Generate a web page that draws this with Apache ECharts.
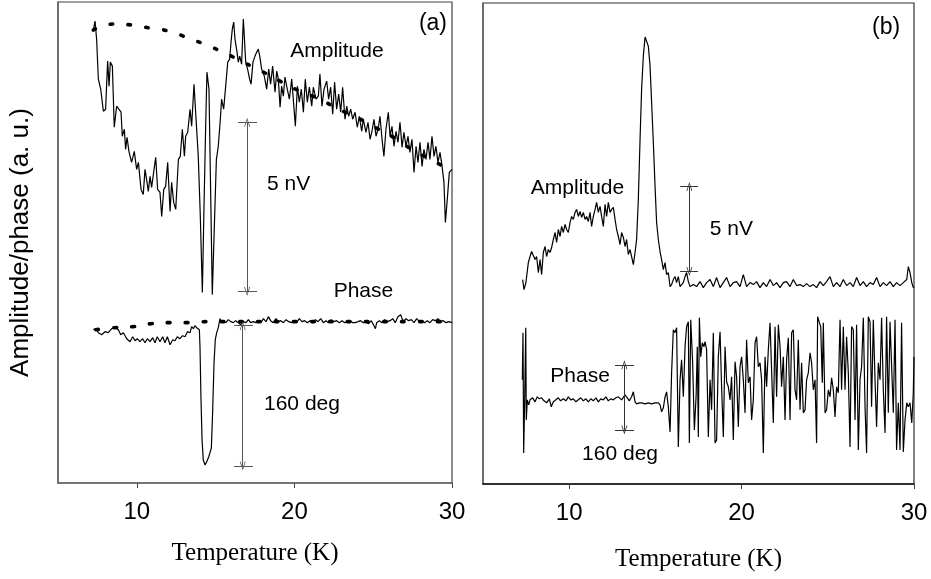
<!DOCTYPE html>
<html>
<head>
    <meta charset="UTF-8">
    <title>Amplitude / phase vs temperature</title>
    <script src="https://fastly.jsdelivr.net/npm/echarts@6/dist/echarts.min.js"></script>
    <style>
        html, body { margin: 0; padding: 0; background: #fff; }
        #chart { width: 931px; height: 579px; }
    </style>
</head>
<body>
<div id="chart"></div>
<script>
// ---- panel (a) : [temperature K, signal a.u.] ----
var ampA = [
  [7.24,452],[7.35,461],[7.45,443],[7.56,403],[7.71,393],[7.88,371],[8.02,373],[8.15,421],[8.24,396],[8.32,420],
  [8.45,416],[8.57,355],[8.72,376],[8.83,375],[9.00,370],[9.08,346],[9.21,353],[9.29,333],[9.38,345],[9.50,331],
  [9.67,320],[9.84,331],[9.99,313],[10.10,320],[10.27,293],[10.41,288],[10.52,313],[10.65,300],[10.73,291],[10.84,306],
  [10.94,295],[11.07,310],[11.20,325],[11.32,293],[11.47,290],[11.58,266],[11.71,293],[11.83,296],[11.96,320],[12.11,271],
  [12.21,300],[12.34,280],[12.47,273],[12.64,323],[12.76,326],[12.89,353],[13.02,326],[13.10,346],[13.23,350],[13.38,373],
  [13.48,356],[13.63,398],[13.76,363],[13.90,326],[14.03,266],[14.16,190],[14.26,273],[14.37,356],[14.45,410],[14.58,393],
  [14.67,306],[14.79,188],[14.92,256],[15.05,323],[15.17,336],[15.30,363],[15.38,383],[15.51,373],[15.64,396],[15.77,420],
  [15.89,423],[15.98,440],[16.06,453],[16.15,460],[16.23,443],[16.36,430],[16.44,420],[16.53,426],[16.65,418],[16.76,463],
  [16.82,446],[16.91,420],[17.03,413],[17.16,403],[17.25,398],[17.37,420],[17.50,426],[17.61,430],[17.71,433],[17.80,426],
  [17.92,413],[18.09,406],[18.24,393],[18.37,413],[18.49,398],[18.62,416],[18.77,390],[18.88,411],[18.98,403],[19.09,375],
  [19.19,396],[19.30,386],[19.40,405],[19.51,396],[19.68,383],[19.83,403],[19.93,383],[20.06,356],[20.19,396],[20.31,380],
  [20.44,393],[20.57,370],[20.69,403],[20.82,380],[20.95,395],[21.10,376],[21.20,395],[21.37,383],[21.52,386],[21.62,408],
  [21.75,376],[21.88,393],[22.05,401],[22.17,383],[22.30,395],[22.43,368],[22.55,400],[22.68,373],[22.81,388],[22.94,370],
  [23.06,395],[23.21,363],[23.32,376],[23.44,366],[23.57,373],[23.70,363],[23.85,370],[23.99,355],[24.12,366],[24.27,351],
  [24.37,363],[24.54,350],[24.67,360],[24.80,343],[24.92,351],[25.05,363],[25.18,346],[25.33,355],[25.43,366],[25.56,343],
  [25.68,326],[25.81,353],[25.96,370],[26.07,346],[26.19,356],[26.32,336],[26.45,351],[26.57,340],[26.70,360],[26.83,335],
  [26.95,350],[27.08,336],[27.21,346],[27.33,330],[27.46,343],[27.59,310],[27.72,336],[27.84,320],[27.97,340],[28.10,316],
  [28.22,333],[28.35,323],[28.48,340],[28.60,323],[28.73,346],[28.86,326],[28.98,336],[29.11,320],[29.24,330],[29.37,316],
  [29.49,300],[29.58,260],[29.70,283],[29.83,310],[30.00,313]
];

var ampAFit = [
  [7.24,452],[8.51,458],[9.68,457],[10.84,454],[12.00,451],[13.27,444],[14.43,437],[15.60,429],[16.76,420],[17.92,411],
  [19.09,401],[20.36,391],[21.62,383],[22.79,373],[23.95,365],[25.11,355],[26.28,345],[27.44,333],[28.60,323],[29.87,313]
];

var phaseA = [
  [7.24,153],[7.41,154],[7.56,150],[7.77,148],[7.98,151],[8.19,150],[8.41,154],[8.62,155],[8.83,153],[8.98,148],
  [9.15,150],[9.36,144],[9.57,141],[9.74,146],[9.89,142],[10.03,144],[10.20,141],[10.37,144],[10.52,140],[10.67,144],
  [10.84,141],[11.01,145],[11.15,140],[11.30,146],[11.47,141],[11.64,146],[11.79,140],[11.94,146],[12.11,138],[12.28,143],
  [12.42,142],[12.57,146],[12.74,144],[12.91,147],[13.06,146],[13.21,151],[13.38,150],[13.48,156],[13.59,154],[13.69,157],
  [13.80,155],[13.90,156],[13.97,153],[14.01,136],[14.07,86],[14.14,43],[14.22,23],[14.33,18],[14.43,21],[14.56,26],
  [14.64,30],[14.73,35],[14.81,70],[14.90,120],[14.98,143],[15.07,150],[15.17,155],[15.28,164],[15.39,160],[15.49,162],
  [15.64,160],[15.81,163],[15.96,161],[16.13,160],[16.27,162],[16.44,160],[16.59,158],[16.76,161],[16.93,160],[17.08,163],
  [17.22,160],[17.39,161],[17.56,160],[17.73,162],[17.88,160],[18.03,164],[18.20,161],[18.35,166],[18.49,162],[18.66,160],
  [18.83,164],[18.98,161],[19.13,162],[19.30,160],[19.47,163],[19.64,161],[19.81,160],[19.98,162],[20.14,160],[20.31,164],
  [20.48,161],[20.65,162],[20.82,160],[20.99,162],[21.16,160],[21.33,163],[21.50,161],[21.67,164],[21.84,160],[22.00,162],
  [22.17,160],[22.34,163],[22.51,161],[22.68,162],[22.85,160],[23.02,162],[23.19,160],[23.36,161],[23.53,162],[23.70,160],
  [23.87,160],[24.04,161],[24.20,162],[24.37,160],[24.54,161],[24.71,159],[24.88,162],[25.05,157],[25.14,154],[25.22,160],
  [25.39,162],[25.56,160],[25.73,163],[25.90,161],[26.07,162],[26.24,164],[26.40,160],[26.57,166],[26.74,168],[26.91,161],
  [27.08,164],[27.25,162],[27.42,163],[27.59,160],[27.76,164],[27.93,161],[28.10,162],[28.27,160],[28.43,162],[28.60,160],
  [28.77,163],[28.94,162],[29.11,164],[29.28,161],[29.45,162],[29.62,160],[29.79,161],[30.00,160]
];

var phaseAFit = [
  [7.41,153],[8.57,155],[9.74,156],[10.90,159],[12.11,160],[13.27,160],[14.43,161],[15.60,161],[20.00,161],[25.00,161],[30.00,161]
];

// ---- panel (b) ----
var ampB = [
  [7.30,204],[7.38,194],[7.49,201],[7.63,221],[7.73,227],[7.82,232],[7.92,231],[8.02,224],[8.11,227],[8.21,211],
  [8.31,224],[8.40,209],[8.50,231],[8.60,237],[8.69,227],[8.79,234],[8.89,231],[8.98,236],[9.08,244],[9.18,251],
  [9.27,241],[9.37,254],[9.47,247],[9.56,257],[9.66,251],[9.76,259],[9.85,254],[9.95,251],[10.05,261],[10.14,267],
  [10.24,264],[10.34,271],[10.43,274],[10.53,267],[10.63,272],[10.72,266],[10.82,271],[10.92,264],[11.01,267],[11.11,262],
  [11.21,271],[11.30,257],[11.40,267],[11.50,274],[11.59,281],[11.69,271],[11.79,277],[11.88,267],[11.98,257],[12.08,279],
  [12.17,267],[12.27,281],[12.37,271],[12.46,274],[12.56,276],[12.66,264],[12.75,254],[12.85,247],[12.95,239],[13.04,251],
  [13.14,246],[13.24,237],[13.33,244],[13.43,229],[13.53,234],[13.62,227],[13.72,219],[13.82,231],[13.91,244],[14.01,284],
  [14.11,344],[14.20,394],[14.30,427],[14.40,446],[14.49,446],[14.59,437],[14.69,417],[14.78,381],[14.88,341],[14.98,297],
  [15.07,261],[15.17,244],[15.27,232],[15.36,224],[15.46,214],[15.56,221],[15.65,209],[15.75,211],[15.85,197],[15.94,199],
  [16.04,204],[16.14,207],[16.23,201],[16.33,207],[16.43,197],[16.52,196],[16.62,201],[16.72,207],[16.81,211],[16.91,202],
  [17.01,197],[17.20,199],[17.39,197],[17.59,202],[17.78,196],[17.97,201],[18.17,204],[18.36,197],[18.55,206],[18.75,196],
  [18.94,201],[19.13,206],[19.33,197],[19.52,201],[19.71,202],[19.91,197],[20.10,209],[20.29,197],[20.49,201],[20.68,199],
  [20.87,202],[21.07,196],[21.26,201],[21.45,197],[21.65,204],[21.84,198],[22.03,201],[22.23,196],[22.42,201],[22.61,202],
  [22.81,197],[23.00,204],[23.19,198],[23.39,199],[23.58,197],[23.77,200],[23.97,197],[24.16,199],[24.35,196],[24.55,202],
  [24.74,198],[24.93,202],[25.13,207],[25.32,197],[25.51,201],[25.71,197],[25.90,204],[26.09,198],[26.29,201],[26.48,197],
  [26.67,206],[26.87,198],[27.06,202],[27.25,197],[27.45,201],[27.64,199],[27.83,206],[28.03,197],[28.22,201],[28.41,198],
  [28.61,202],[28.80,197],[28.99,201],[29.19,198],[29.38,201],[29.58,204],[29.67,217],[29.77,211],[29.87,201],[29.96,196],
  [30.00,197]
];

var phaseB = [
  [7.28,104],[7.32,151],[7.36,31],[7.42,87],[7.48,156],[7.51,64],[7.57,84],[7.65,79],[7.73,84],[7.88,86],
  [8.02,82],[8.15,87],[8.27,85],[8.40,86],[8.54,83],[8.69,81],[8.85,85],[8.96,77],[9.08,82],[9.23,84],
  [9.37,86],[9.50,83],[9.66,85],[9.81,83],[9.95,87],[10.09,84],[10.24,85],[10.39,82],[10.53,84],[10.67,86],
  [10.82,83],[10.97,85],[11.11,82],[11.25,85],[11.40,83],[11.55,86],[11.69,82],[11.83,85],[11.98,84],[12.13,87],
  [12.27,83],[12.40,85],[12.56,84],[12.71,86],[12.85,87],[12.95,88],[13.04,84],[13.14,85],[13.24,89],[13.33,87],
  [13.49,83],[13.62,87],[13.72,92],[13.82,82],[13.91,80],[14.07,81],[14.20,81],[14.40,80],[14.59,81],[14.78,80],
  [14.98,81],[15.17,81],[15.27,79],[15.36,72],[15.46,76],[15.56,87],[15.65,92],[15.75,77],[15.85,52],[15.94,111],
  [16.04,154],[16.14,151],[16.23,156],[16.33,37],[16.43,104],[16.52,124],[16.62,87],[16.72,137],[16.81,157],[16.91,162],
  [16.97,41],[17.05,164],[17.16,121],[17.26,54],[17.36,87],[17.43,137],[17.49,47],[17.55,166],[17.63,127],[17.72,141],
  [17.82,137],[17.88,142],[17.97,134],[18.07,47],[18.17,104],[18.26,74],[18.36,151],[18.46,41],[18.55,44],[18.65,127],
  [18.75,152],[18.84,97],[18.94,47],[19.04,137],[19.13,102],[19.23,97],[19.33,84],[19.42,107],[19.52,44],[19.62,122],
  [19.71,107],[19.81,57],[19.91,117],[20.00,127],[20.10,104],[20.20,71],[20.29,144],[20.39,101],[20.49,107],[20.58,64],
  [20.68,84],[20.78,141],[20.87,147],[20.97,117],[21.07,121],[21.16,104],[21.26,31],[21.36,127],[21.45,97],[21.55,134],
  [21.65,161],[21.74,162],[21.84,61],[21.94,157],[22.03,87],[22.13,159],[22.23,137],[22.32,97],[22.42,127],[22.52,64],
  [22.61,124],[22.71,146],[22.81,64],[22.90,151],[23.00,154],[23.10,94],[23.19,84],[23.29,144],[23.39,74],[23.48,121],
  [23.58,71],[23.68,74],[23.77,104],[23.87,111],[23.97,131],[24.06,121],[24.16,94],[24.26,104],[24.35,41],[24.41,167],
  [24.51,161],[24.59,157],[24.68,101],[24.74,161],[24.84,71],[24.93,74],[25.03,94],[25.13,87],[25.22,106],[25.32,94],
  [25.42,67],[25.51,97],[25.61,91],[25.71,164],[25.80,94],[25.90,157],[26.00,94],[26.09,147],[26.19,111],[26.29,37],
  [26.38,157],[26.48,154],[26.58,64],[26.67,159],[26.77,34],[26.87,104],[26.96,117],[27.06,166],[27.16,77],[27.25,31],
  [27.35,167],[27.45,162],[27.54,77],[27.64,164],[27.74,104],[27.83,57],[27.93,121],[28.03,104],[28.12,166],[28.22,94],
  [28.32,51],[28.41,167],[28.51,71],[28.61,162],[28.70,161],[28.80,71],[28.90,164],[28.99,34],[29.09,81],[29.19,34],
  [29.28,161],[29.38,32],[29.48,64],[29.58,81],[29.67,77],[29.77,81],[29.87,61],[29.96,91],[30.00,127]
];

var xTicks = [10, 20, 30];

var chart = echarts.init(document.getElementById('chart'), null, {renderer: 'canvas'});

var sans = 'Liberation Sans, Arial, sans-serif';
var serif = 'Liberation Serif, Times New Roman, serif';
var headPath = 'path://M0,10 L5,0 L10,10 L8.6,10 L5,2.6 L1.4,10 Z';

function xAx(grid, gap, lineColor) {
  return {
    gridIndex: grid, type: 'value', min: 5, max: 30,
    axisLine: {show: true, lineStyle: {color: lineColor, width: 1.5}},
    axisTick: {show: true, inside: false, length: 5, customValues: xTicks, lineStyle: {color: '#444'}},
    axisLabel: {show: true, customValues: xTicks, margin: 17, color: '#000', fontSize: 24, fontFamily: sans},
    splitLine: {show: false},
    name: 'Temperature (K)', nameLocation: 'middle', nameGap: gap,
    nameTextStyle: {color: '#000', fontSize: 25, fontFamily: serif}
  };
}

function yAx(grid, withName) {
  var ax = {
    gridIndex: grid, type: 'value', min: 0, max: 480,
    axisLine: {show: true, lineStyle: {color: '#666', width: 1.5}},
    axisTick: {show: false}, axisLabel: {show: false}, splitLine: {show: false}
  };
  if (withName) {
    ax.name = 'Amplitude/phase (a. u.)';
    ax.nameLocation = 'middle';
    ax.nameGap = 24;
    ax.nameTextStyle = {color: '#000', fontSize: 26, fontFamily: sans};
  }
  return ax;
}

function scaleBar(t, lo, hi, c0, c1) {
  return [
    [{coord: [t, hi], symbol: headPath}, {coord: [t, lo], symbol: headPath}],
    [{coord: [c0, hi]}, {coord: [c1, hi]}],
    [{coord: [c0, lo]}, {coord: [c1, lo]}]
  ];
}

function labels(items) {
  return {
    silent: true, symbol: 'rect', symbolSize: 1,
    itemStyle: {color: 'rgba(0,0,0,0)'},
    label: {show: true, position: 'inside', formatter: '{b}', color: '#000', fontSize: 21, fontFamily: sans},
    data: items
  };
}

function bars(list, color) {
  return {
    silent: true, symbol: 'none', symbolSize: [6, 9],
    lineStyle: {color: color, width: 1, type: 'solid'},
    label: {show: false}, emphasis: {disabled: true},
    data: list
  };
}

var trace = {color: '#000', width: 1.2};
var dotted = {color: '#000', width: 3.6, type: [2.5, 15.5], cap: 'round'};

var option = {
  backgroundColor: '#fff',
  animation: false,
  grid: [
    {left: 58, top: 2, width: 394, height: 481, show: true, borderColor: '#444', borderWidth: 1.2, backgroundColor: 'transparent'},
    {left: 483, top: 3, width: 431, height: 481, show: true, borderColor: '#333', borderWidth: 1.2, backgroundColor: 'transparent'}
  ],
  xAxis: [xAx(0, 58, '#666'), xAx(1, 63, '#111')],
  yAxis: [yAx(0, true), yAx(1, false)],
  series: [
    {
      type: 'line', xAxisIndex: 0, yAxisIndex: 0, data: ampAFit, smooth: true,
      showSymbol: false, lineStyle: dotted, silent: true
    },
    {
      type: 'line', xAxisIndex: 0, yAxisIndex: 0, data: phaseAFit, smooth: true,
      showSymbol: false, lineStyle: dotted, silent: true
    },
    {
      type: 'line', xAxisIndex: 0, yAxisIndex: 0, data: ampA,
      showSymbol: false, lineStyle: trace, silent: true,
      markLine: bars(scaleBar(17.0, 191, 360, 16.42, 17.63).concat(scaleBar(16.72, 17, 157, 16.17, 17.37)), '#555'),
      markPoint: labels([
        {name: 'Amplitude', coord: [22.7, 431]},
        {name: '5 nV', coord: [19.63, 298]},
        {name: 'Phase', coord: [24.38, 191]},
        {name: '160 deg', coord: [20.48, 79]},
        {name: '(a)', coord: [28.79, 458], label: {fontSize: 23}}
      ])
    },
    {
      type: 'line', xAxisIndex: 0, yAxisIndex: 0, data: phaseA,
      showSymbol: false, lineStyle: trace, silent: true
    },
    {
      type: 'line', xAxisIndex: 1, yAxisIndex: 1, data: ampB,
      showSymbol: false, lineStyle: trace, silent: true,
      markLine: bars(scaleBar(16.97, 212, 297, 16.43, 17.47).concat(scaleBar(13.2, 54, 119, 12.66, 13.76)), '#333'),
      markPoint: labels([
        {name: 'Amplitude', coord: [10.48, 295]},
        {name: '5 nV', coord: [19.41, 254]},
        {name: 'Phase', coord: [10.63, 108]},
        {name: '160 deg', coord: [12.95, 30]},
        {name: '(b)', coord: [28.38, 455], label: {fontSize: 23}}
      ])
    },
    {
      type: 'line', xAxisIndex: 1, yAxisIndex: 1, data: phaseB,
      showSymbol: false, lineStyle: trace, silent: true
    }
  ]
};

chart.setOption(option);
</script>
</body>
</html>
